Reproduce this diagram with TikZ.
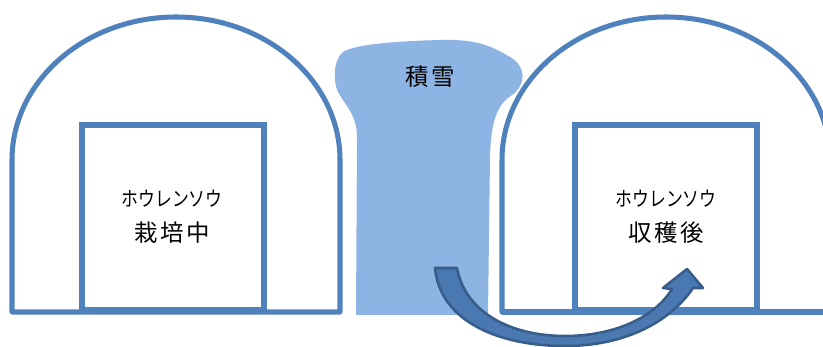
\documentclass[tikz,border=0pt]{standalone}
\usepackage{fontspec}
\setmainfont{Noto Sans CJK JP}
\usepackage{tikz}
\usetikzlibrary{positioning}
\definecolor{myhousecolor}{HTML}{4F81BD}
\definecolor{mysnowcolor}{HTML}{8EB4E3}
\definecolor{myarrowcolor}{HTML}{4A78B0}
\definecolor{myarrowline}{HTML}{385D8A}
\tikzset{
  house/.style={draw=myhousecolor, line width=4.3pt, line join=round},
  bed/.style={draw=myhousecolor, line width=4.3pt, fill=white, rectangle, minimum width=5.46cm, minimum height=5.55cm},
  crop/.style={xscale=0.82, transform shape},
}

\begin{document}
\begin{tikzpicture}[x=0.03cm, y=0.03cm]%
\useasboundingbox (0,0) rectangle (823,347);%
\clip (0,0) rectangle (823,347);%
% houses
\draw[house] (12,35) -- (12,187) arc[start angle=180, end angle=0, x radius=164, y radius=143] -- (340,35) -- cycle;%
\draw[house] (502,35) -- (502,187) arc[start angle=180, end angle=0, x radius=164, y radius=143] -- (830,35) -- cycle;%
\draw[house] (502,35) -- (823,35);%
% beds
\node[bed] (growbed) at (173,129.5) {};%
\node[bed] (harvestbed) at (666,129.5) {};%
\node[crop] (growname) at (172,148) {\fontsize{17.5pt}{17.5pt}\selectfont ホウレンソウ};%
\node (growstate) at (172,114) {\fontsize{20pt}{20pt}\selectfont\addfontfeature{LetterSpace=12} 栽培中};%
\node[crop] (harvestname) at (666,148) {\fontsize{17.5pt}{17.5pt}\selectfont ホウレンソウ};%
\node (harveststate) at (666,114) {\fontsize{20pt}{20pt}\selectfont\addfontfeature{LetterSpace=12} 収穫後};%
% snow
\fill[mysnowcolor] (356,32) -- (488,32) -- (490,190) .. controls (491,232) and (500,244) .. (512,252) .. controls (526,262) and (527,280) .. (510,290) .. controls (490,302) and (475,308) .. (440,307) .. controls (400,306) and (355,303) .. (343,295) .. controls (333,287) and (333,265) .. (338,255) .. controls (345,242) and (357,232) .. (357,210) -- cycle;%
\node (snow) at (430,270) {\fontsize{20pt}{20pt}\selectfont\addfontfeature{LetterSpace=10} 積雪};%
% arrow
\draw[fill=myarrowcolor, draw=myarrowline, line width=2.2pt, line join=round] (435,79) .. controls (440,25) and (500,1) .. (565,1) .. controls (625,1) and (670,25) .. (693,59) -- (703,59) -- (687,78) -- (663,59) -- (672,58) .. controls (655,30) and (615,11) .. (565,11) .. controls (510,11) and (465,35) .. (457,79) -- cycle;%
\end{tikzpicture}
\end{document}
